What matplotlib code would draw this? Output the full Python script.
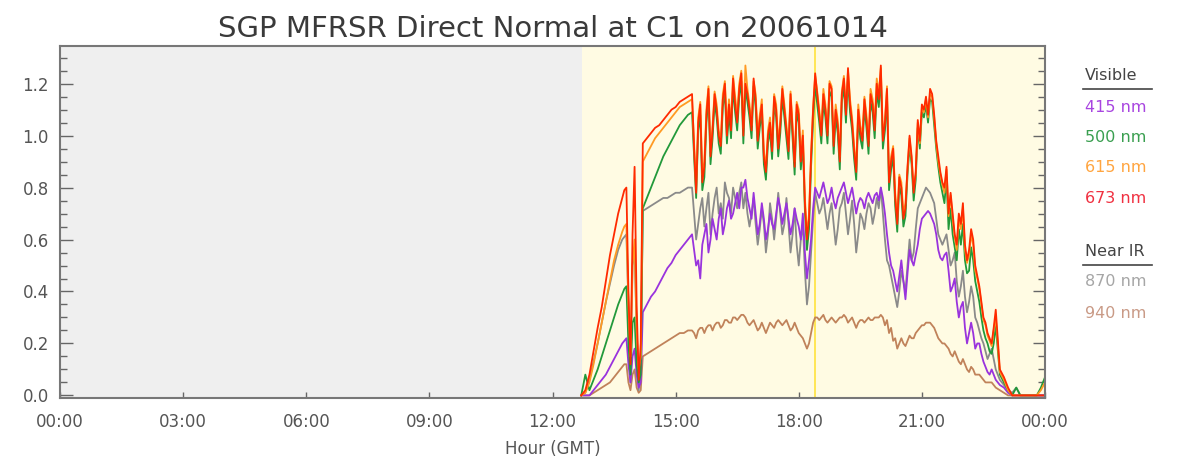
import numpy as np
import matplotlib
matplotlib.use("Agg")
import matplotlib.pyplot as plt
from matplotlib.lines import Line2D

# MFRSR direct normal irradiance, 6-minute samples from 12.7 h to 24.0 h GMT,
# plus the in-between 3-minute samples for the cloudy stretches
start_hour = 12.7
step_hours = 0.1
daylight_start = 12.72
marker_hour = 18.4

ch_415 = [0.00, 0.00, 0.00, 0.02, 0.04, 0.06, 0.08, 0.11, 0.14, 0.17,
          0.20, 0.22, 0.05, 0.18, 0.03, 0.32, 0.35, 0.38, 0.40, 0.43,
          0.46, 0.49, 0.51, 0.54, 0.56, 0.58, 0.60, 0.62, 0.50, 0.45,
          0.62, 0.55, 0.68, 0.60, 0.72, 0.66, 0.75, 0.70, 0.78, 0.80,
          0.83, 0.72, 0.78, 0.62, 0.74, 0.60, 0.70, 0.64, 0.76, 0.66,
          0.74, 0.62, 0.72, 0.65, 0.70, 0.45, 0.60, 0.80, 0.76, 0.82,
          0.74, 0.80, 0.72, 0.78, 0.82, 0.74, 0.80, 0.70, 0.76, 0.72,
          0.78, 0.74, 0.78, 0.80, 0.70, 0.55, 0.48, 0.40, 0.52, 0.37,
          0.56, 0.50, 0.58, 0.68, 0.70, 0.70, 0.66, 0.56, 0.52, 0.55,
          0.40, 0.45, 0.30, 0.36, 0.20, 0.28, 0.18, 0.20, 0.13, 0.09,
          0.10, 0.06, 0.04, 0.03, 0.01, 0.00, 0.00, 0.00, 0.00, 0.00,
          0.00, 0.00, 0.00, 0.00]

ch_500 = [0.00, 0.08, 0.02, 0.06, 0.10, 0.15, 0.20, 0.25, 0.30, 0.35,
          0.39, 0.42, 0.08, 0.30, 0.05, 0.72, 0.76, 0.80, 0.84, 0.88,
          0.92, 0.95, 0.98, 1.01, 1.04, 1.06, 1.08, 1.09, 0.76, 1.08,
          0.84, 1.15, 0.99, 1.07, 0.93, 1.17, 1.09, 1.19, 1.02, 1.21,
          1.18, 1.07, 1.19, 0.95, 1.09, 0.83, 1.02, 1.12, 0.92, 1.15,
          0.99, 1.13, 0.85, 1.05, 0.97, 0.56, 0.88, 1.20, 1.05, 1.13,
          0.97, 1.15, 1.07, 0.87, 1.19, 1.22, 1.02, 0.83, 0.99, 1.11,
          0.93, 1.09, 1.17, 1.23, 1.02, 0.79, 0.92, 0.63, 0.77, 0.69,
          0.96, 0.75, 1.03, 1.09, 1.12, 1.14, 1.04, 0.88, 0.78, 0.84,
          0.72, 0.57, 0.64, 0.66, 0.47, 0.57, 0.44, 0.36, 0.25, 0.20,
          0.16, 0.27, 0.08, 0.05, 0.02, 0.00, 0.03, 0.00, 0.00, 0.00,
          0.00, 0.00, 0.03, 0.07]

ch_615 = [0.00, 0.01, 0.05, 0.12, 0.20, 0.28, 0.36, 0.44, 0.52, 0.58,
          0.63, 0.66, 0.15, 0.60, 0.10, 0.90, 0.93, 0.96, 0.99, 1.01,
          1.03, 1.05, 1.07, 1.09, 1.11, 1.12, 1.13, 1.14, 0.80, 1.13,
          0.90, 1.19, 1.04, 1.12, 0.98, 1.21, 1.14, 1.23, 1.08, 1.25,
          1.27, 1.12, 1.21, 1.00, 1.14, 0.88, 1.07, 1.16, 0.97, 1.19,
          1.04, 1.17, 0.90, 1.10, 1.02, 0.62, 0.93, 1.23, 1.10, 1.18,
          1.02, 1.19, 1.12, 0.92, 1.23, 1.25, 1.07, 0.88, 1.04, 1.15,
          0.98, 1.14, 1.22, 1.26, 1.06, 0.84, 0.96, 0.68, 0.82, 0.74,
          0.99, 0.80, 1.05, 1.11, 1.14, 1.16, 1.07, 0.90, 0.81, 0.87,
          0.77, 0.61, 0.68, 0.72, 0.51, 0.62, 0.48, 0.41, 0.29, 0.23,
          0.19, 0.30, 0.09, 0.06, 0.02, 0.00, 0.00, 0.00, 0.00, 0.00,
          0.00, 0.00, 0.02, 0.05]

ch_673 = [0.00, 0.02, 0.08, 0.17, 0.26, 0.34, 0.44, 0.54, 0.62, 0.70,
          0.76, 0.80, 0.12, 0.88, 0.06, 0.97, 0.99, 1.01, 1.03, 1.04,
          1.06, 1.08, 1.10, 1.11, 1.13, 1.14, 1.15, 1.16, 0.78, 1.12,
          0.88, 1.18, 1.02, 1.10, 0.96, 1.20, 1.12, 1.22, 1.05, 1.24,
          1.20, 1.10, 1.22, 0.98, 1.12, 0.86, 1.05, 1.15, 0.95, 1.18,
          1.02, 1.16, 0.88, 1.08, 1.00, 0.60, 0.92, 1.24, 1.08, 1.16,
          1.00, 1.18, 1.10, 0.90, 1.22, 1.26, 1.05, 0.86, 1.02, 1.14,
          0.96, 1.12, 1.20, 1.27, 1.05, 0.82, 0.95, 0.66, 0.80, 0.72,
          1.00, 0.78, 1.06, 1.12, 1.15, 1.18, 1.08, 0.92, 0.82, 0.88,
          0.78, 0.62, 0.70, 0.74, 0.52, 0.64, 0.50, 0.42, 0.30, 0.24,
          0.20, 0.33, 0.10, 0.07, 0.03, 0.00, 0.00, 0.00, 0.00, 0.00,
          0.00, 0.00, 0.00, 0.00]

ch_870 = [0.00, 0.01, 0.06, 0.13, 0.20, 0.28, 0.36, 0.43, 0.50, 0.56,
          0.60, 0.62, 0.05, 0.55, 0.02, 0.71, 0.72, 0.73, 0.74, 0.75,
          0.76, 0.76, 0.77, 0.78, 0.78, 0.79, 0.80, 0.80, 0.60, 0.72,
          0.65, 0.78, 0.70, 0.80, 0.74, 0.82, 0.76, 0.80, 0.72, 0.82,
          0.78, 0.65, 0.76, 0.58, 0.72, 0.55, 0.74, 0.60, 0.78, 0.62,
          0.76, 0.55, 0.72, 0.50, 0.66, 0.35, 0.55, 0.78, 0.70, 0.76,
          0.64, 0.74, 0.58, 0.72, 0.78, 0.62, 0.75, 0.55, 0.70, 0.64,
          0.74, 0.66, 0.76, 0.80, 0.60, 0.50, 0.42, 0.34, 0.48, 0.40,
          0.60, 0.55, 0.72, 0.76, 0.80, 0.78, 0.74, 0.62, 0.58, 0.62,
          0.50, 0.55, 0.38, 0.48, 0.32, 0.42, 0.30, 0.25, 0.20, 0.14,
          0.18, 0.10, 0.06, 0.04, 0.02, 0.01, 0.03, 0.00, 0.00, 0.00,
          0.00, 0.00, 0.00, 0.00]

ch_940 = [0.00, 0.00, 0.00, 0.01, 0.02, 0.03, 0.04, 0.05, 0.07, 0.09,
          0.11, 0.12, 0.02, 0.10, 0.01, 0.15, 0.16, 0.17, 0.18, 0.19,
          0.20, 0.21, 0.22, 0.23, 0.24, 0.24, 0.25, 0.25, 0.22, 0.26,
          0.24, 0.27, 0.25, 0.28, 0.26, 0.29, 0.28, 0.30, 0.29, 0.31,
          0.30, 0.27, 0.29, 0.25, 0.28, 0.24, 0.28, 0.26, 0.29, 0.27,
          0.29, 0.25, 0.28, 0.24, 0.22, 0.18, 0.24, 0.30, 0.29, 0.31,
          0.28, 0.30, 0.28, 0.30, 0.31, 0.28, 0.30, 0.26, 0.29, 0.28,
          0.30, 0.29, 0.30, 0.31, 0.27, 0.24, 0.21, 0.18, 0.22, 0.19,
          0.23, 0.22, 0.25, 0.27, 0.28, 0.28, 0.26, 0.22, 0.20, 0.19,
          0.16, 0.17, 0.13, 0.14, 0.10, 0.11, 0.08, 0.08, 0.06, 0.05,
          0.05, 0.03, 0.02, 0.01, 0.00, 0.00, 0.00, 0.00, 0.00, 0.00,
          0.00, 0.00, 0.00, 0.00]

# extra samples: 13.75-14.15 h (first five) and 15.45-22.75 h
fine_415 = [0.21, 0.12, 0.15, 0.08, 0.05,
            0.56, 0.52, 0.58, 0.66, 0.60, 0.64, 0.68, 0.62, 0.72, 0.68,
            0.74, 0.72, 0.80, 0.76, 0.68, 0.70, 0.66, 0.68, 0.64, 0.66,
            0.70, 0.72, 0.70, 0.68, 0.66, 0.68, 0.60, 0.55, 0.52, 0.72,
            0.78, 0.79, 0.78, 0.76, 0.75, 0.76, 0.80, 0.78, 0.77, 0.75,
            0.74, 0.75, 0.76, 0.76, 0.77, 0.75, 0.76, 0.62, 0.50, 0.44,
            0.46, 0.44, 0.47, 0.52, 0.54, 0.64, 0.69, 0.71, 0.68, 0.62,
            0.53, 0.54, 0.48, 0.42, 0.36, 0.34, 0.26, 0.24, 0.24, 0.20,
            0.16, 0.11, 0.08, 0.08]

fine_500 = [0.41, 0.20, 0.28, 0.12, 0.08,
            0.92, 1.02, 0.79, 1.05, 0.89, 1.13, 0.97, 1.11, 0.97, 0.99,
            1.09, 1.15, 0.97, 1.13, 0.99, 1.11, 1.03, 0.89, 0.97, 0.91,
            1.07, 1.01, 1.07, 0.91, 0.99, 1.09, 0.87, 0.71, 0.64, 1.06,
            1.12, 0.97, 1.07, 1.17, 0.93, 1.01, 1.13, 1.05, 1.09, 0.91,
            1.07, 0.95, 1.03, 1.13, 0.99, 1.11, 0.95, 1.15, 0.87, 0.73,
            0.81, 0.65, 0.85, 0.89, 0.83, 0.95, 1.07, 1.05, 1.13, 0.95,
            0.82, 0.74, 0.64, 0.62, 0.52, 0.58, 0.52, 0.48, 0.52, 0.40,
            0.30, 0.22, 0.17, 0.20]

fine_615 = [0.65, 0.35, 0.50, 0.25, 0.15,
            0.97, 1.07, 0.85, 1.10, 0.94, 1.17, 1.02, 1.16, 1.03, 1.05,
            1.15, 1.20, 1.03, 1.18, 1.04, 1.16, 1.08, 0.94, 1.02, 0.96,
            1.12, 1.06, 1.12, 0.96, 1.04, 1.13, 0.92, 0.76, 0.70, 1.11,
            1.17, 1.03, 1.12, 1.21, 0.98, 1.06, 1.17, 1.10, 1.14, 0.96,
            1.12, 1.00, 1.08, 1.18, 1.05, 1.16, 1.00, 1.19, 0.92, 0.78,
            0.85, 0.70, 0.87, 0.91, 0.85, 0.97, 1.09, 1.07, 1.15, 0.97,
            0.85, 0.78, 0.69, 0.68, 0.56, 0.64, 0.56, 0.54, 0.58, 0.45,
            0.35, 0.27, 0.21, 0.25]

fine_673 = [0.79, 0.40, 0.62, 0.35, 0.20,
            0.95, 1.05, 0.82, 1.08, 0.92, 1.16, 1.00, 1.14, 1.00, 1.02,
            1.12, 1.18, 1.00, 1.16, 1.02, 1.14, 1.06, 0.92, 1.00, 0.94,
            1.10, 1.04, 1.10, 0.94, 1.02, 1.12, 0.90, 0.74, 0.68, 1.10,
            1.16, 1.00, 1.10, 1.20, 0.96, 1.04, 1.16, 1.08, 1.12, 0.94,
            1.10, 0.98, 1.06, 1.16, 1.02, 1.14, 0.98, 1.18, 0.90, 0.76,
            0.84, 0.68, 0.88, 0.92, 0.86, 0.98, 1.10, 1.08, 1.16, 0.98,
            0.86, 0.80, 0.70, 0.70, 0.58, 0.66, 0.58, 0.56, 0.60, 0.46,
            0.36, 0.28, 0.22, 0.26]

fine_870 = [0.61, 0.35, 0.50, 0.25, 0.10,
            0.70, 0.66, 0.76, 0.72, 0.62, 0.76, 0.70, 0.68, 0.78, 0.70,
            0.76, 0.78, 0.72, 0.70, 0.70, 0.66, 0.64, 0.66, 0.62, 0.68,
            0.68, 0.70, 0.66, 0.66, 0.62, 0.58, 0.60, 0.48, 0.42, 0.68,
            0.74, 0.72, 0.70, 0.70, 0.66, 0.64, 0.74, 0.70, 0.68, 0.66,
            0.62, 0.68, 0.70, 0.72, 0.70, 0.72, 0.70, 0.52, 0.46, 0.38,
            0.40, 0.44, 0.50, 0.52, 0.64, 0.74, 0.78, 0.79, 0.76, 0.68,
            0.60, 0.60, 0.56, 0.52, 0.44, 0.42, 0.38, 0.36, 0.38, 0.28,
            0.22, 0.17, 0.16, 0.14]

fine_940 = [0.12, 0.05, 0.08, 0.03, 0.02,
            0.24, 0.25, 0.26, 0.26, 0.27, 0.27, 0.28, 0.27, 0.29, 0.28,
            0.30, 0.30, 0.31, 0.28, 0.28, 0.27, 0.26, 0.26, 0.26, 0.27,
            0.28, 0.28, 0.28, 0.27, 0.26, 0.26, 0.23, 0.20, 0.20, 0.28,
            0.30, 0.30, 0.29, 0.29, 0.29, 0.29, 0.30, 0.30, 0.29, 0.28,
            0.28, 0.29, 0.29, 0.29, 0.30, 0.30, 0.30, 0.29, 0.26, 0.22,
            0.20, 0.20, 0.21, 0.22, 0.24, 0.26, 0.27, 0.28, 0.27, 0.24,
            0.21, 0.20, 0.18, 0.15, 0.15, 0.12, 0.12, 0.09, 0.10, 0.08,
            0.07, 0.05, 0.05, 0.04]

visible_labels = ["415 nm", "500 nm", "615 nm", "673 nm"]
near_ir_labels = ["870 nm", "940 nm"]
hour_ticks = [0, 3, 6, 9, 12, 15, 18, 21, 24]

colors = {
    "415 nm": "#9933dd",
    "500 nm": "#22993a",
    "615 nm": "#ff9a22",
    "673 nm": "#ff2a00",
    "870 nm": "#8a8a8a",
    "940 nm": "#c0825a",
}
label_colors = {
    "415 nm": "#a845e0",
    "500 nm": "#3a9f50",
    "615 nm": "#ffa540",
    "673 nm": "#f03040",
    "870 nm": "#a6a6a6",
    "940 nm": "#c99a86",
}
# drawn back to front
series = {
    "940 nm": (ch_940, fine_940),
    "870 nm": (ch_870, fine_870),
    "415 nm": (ch_415, fine_415),
    "500 nm": (ch_500, fine_500),
    "615 nm": (ch_615, fine_615),
    "673 nm": (ch_673, fine_673),
}

hours = start_hour + step_hours * np.arange(len(ch_673))
fine_hours = np.concatenate([13.75 + step_hours * np.arange(5),
                             15.45 + step_hours * np.arange(74)])

text_color = "#444444"
plt.rcParams["font.family"] = ["DejaVu Sans"]

fig = plt.figure(figsize=(11.8, 4.66), dpi=100)
ax = fig.add_axes([60 / 1180, 68 / 466, 985 / 1180, 352 / 466])

# night in gray, daylight in pale yellow
ax.set_facecolor("#efefef")
ax.axvspan(daylight_start, 24, color="#fffbe3", zorder=0, lw=0)
ax.axvline(marker_hour, color="#ffe44a", lw=1.3, zorder=1)

for name, (coarse, fine) in series.items():
    t = np.concatenate([hours, fine_hours])
    v = np.concatenate([coarse, fine])
    order = np.argsort(t)
    ax.plot(t[order], v[order], color=colors[name], lw=1.3, zorder=2)

ax.set_xlim(0, 24)
ax.set_ylim(-0.01, 1.345)
ax.set_xticks(hour_ticks)
ax.set_xticklabels(["%02d:00" % (h % 24) for h in hour_ticks])
ax.set_yticks(np.arange(0, 1.21, 0.2))
ax.set_yticks(np.arange(0, 1.34, 0.05), minor=True)
ax.yaxis.set_major_formatter(plt.FormatStrFormatter("%.1f"))

ax.tick_params(axis="y", which="major", direction="in", length=9, width=1,
               right=True, color="#666666", labelsize=12, labelcolor="#555555", pad=8)
ax.tick_params(axis="y", which="minor", direction="in", length=5, width=1,
               right=True, color="#666666")
ax.tick_params(axis="x", which="major", direction="in", length=4, width=1,
               color="#666666", labelsize=12, labelcolor="#555555", pad=11)
for sp in ax.spines.values():
    sp.set_color("#777777")
    sp.set_linewidth(1.5)

ax.set_xlabel("Hour (GMT)", fontsize=12, color="#555555", labelpad=6)
ax.set_title("SGP MFRSR Direct Normal at C1 on 20061014", fontsize=21,
             color="#3a3a3a", pad=6.5)

# channel key at the right
def fy(px):
    return 1 - px / 466

x0 = 1085 / 1180
fig.text(x0, fy(75), "Visible", fontsize=11.5, color=text_color, va="center")
fig.add_artist(Line2D([1083 / 1180, 1152 / 1180], [fy(89), fy(89)],
                      color=text_color, lw=1.2))
for i, name in enumerate(visible_labels):
    fig.text(x0, fy(107 + 30.5 * i), name, fontsize=11.5,
             color=label_colors[name], va="center")
fig.text(x0, fy(251), "Near IR", fontsize=11.5, color=text_color, va="center")
fig.add_artist(Line2D([1083 / 1180, 1152 / 1180], [fy(265), fy(265)],
                      color=text_color, lw=1.2))
for i, name in enumerate(near_ir_labels):
    fig.text(x0, fy(282 + 31 * i), name, fontsize=11.5,
             color=label_colors[name], va="center")

fig.savefig("out.png", dpi=100)
